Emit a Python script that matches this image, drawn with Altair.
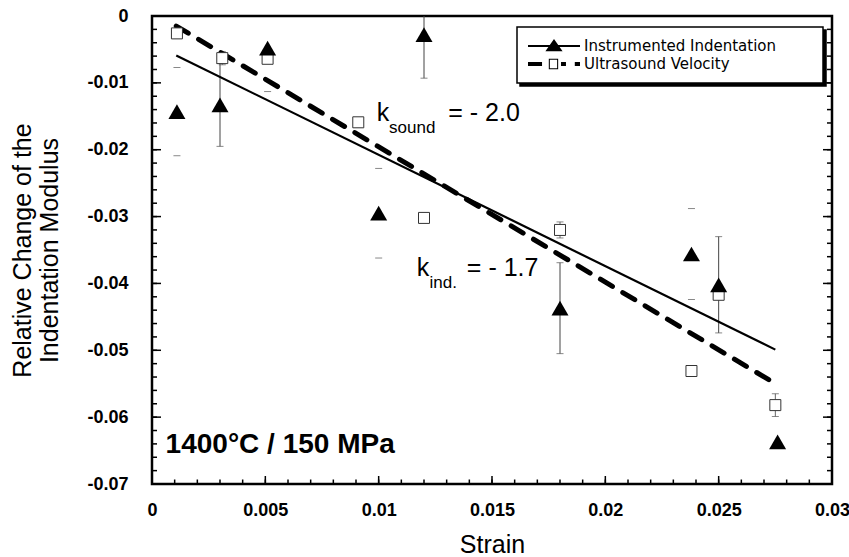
import altair as alt
import pandas as pd

# ---------------- data ----------------
series_names = ["Instrumented Indentation", "Ultrasound Velocity"]

# Instrumented indentation (filled triangles)
strain_ind = [0.0011, 0.0030, 0.0051, 0.0100, 0.0120, 0.0180, 0.0238, 0.0250, 0.0276]
mod_ind = [-0.0143, -0.0133, -0.0048, -0.0295, -0.0028, -0.0437, -0.0356, -0.0402, -0.0637]
err_ind = [0.0066, 0.0062, 0.0065, 0.0067, 0.0065, 0.0068, 0.0068, 0.0072, 0.0]
bar_ind = [False, True, False, False, True, True, False, True, False]

# Ultrasound velocity (open squares)
strain_us = [0.0011, 0.0031, 0.0051, 0.0091, 0.0120, 0.0180, 0.0238, 0.0250, 0.0275]
mod_us = [-0.0026, -0.0063, -0.0064, -0.0159, -0.0302, -0.0320, -0.0531, -0.0417, -0.0582]
err_us = [0.0007, 0.0010, 0.0007, 0.0007, 0.0007, 0.0012, 0.0007, 0.0007, 0.0017]

# linear fits (end points)
fit_strain_ind = [0.00107, 0.0275]
fit_mod_ind = [-0.0059, -0.0499]
fit_strain_us = [0.00107, 0.02726]
fit_mod_us = [-0.0015, -0.0545]

# tick values
x_major = [0, 0.005, 0.01, 0.015, 0.02, 0.025, 0.03]
x_minor = [round(i * 0.001, 3) for i in range(31)]
y_major = [0, -0.01, -0.02, -0.03, -0.04, -0.05, -0.06, -0.07]
y_minor = [round(-i * 0.002, 3) for i in range(36)]

# annotations
cond_text = ["1400°C / 150 MPa"]
cond_strain = [0.0006]
cond_mod = [-0.0654]
k_main = ["k", "k"]
k_strain = [0.00992, 0.01168]
k_mod = [-0.01575, -0.03895]
k_sub = ["sound", "ind."]
k_sub_strain = [0.01046, 0.01224]
k_sub_mod = [-0.01749, -0.04069]
k_rest = ["= - 2.0", "= - 1.7"]
k_rest_strain = [0.01307, 0.01389]

# ---------------- tables ----------------
ind = pd.DataFrame({"strain": strain_ind, "mod": mod_ind, "err": err_ind, "bar": bar_ind})
ind["lo"] = ind["mod"] - ind["err"]
ind["hi"] = ind["mod"] + ind["err"]
us = pd.DataFrame({"strain": strain_us, "mod": mod_us, "err": err_us})
us["lo"] = us["mod"] - us["err"]
us["hi"] = us["mod"] + us["err"]

caps_src = pd.concat([ind[ind["err"] > 0][["strain", "lo", "hi"]],
                      us[["strain", "lo", "hi"]]])
caps = caps_src.melt(id_vars="strain", value_vars=["lo", "hi"], value_name="cap")

fits = pd.DataFrame({
    "series": [series_names[0]] * 2 + [series_names[1]] * 2,
    "strain": fit_strain_ind + fit_strain_us,
    "mod": fit_mod_ind + fit_mod_us,
})

W, H = 680, 468
FONT = "Liberation Sans"
xs = alt.Scale(domain=[0, 0.03], nice=False, zero=False)
ys = alt.Scale(domain=[-0.07, 0], nice=False, zero=False)
LBL = "replace(format(datum.value, '~g'), '\u2212', '-')"

common = dict(domain=False, grid=False, ticks=False, tickSize=0, offset=0,
              labelFlush=False, labelOverlap=False, labelFont=FONT, labelFontSize=18,
              labelFontWeight="bold", labelColor="black", labelExpr=LBL,
              titleFont=FONT, titleFontSize=25, titleFontWeight="normal", titleColor="black")

ax_x = alt.Axis(orient="bottom", values=x_major, labelPadding=17, title="Strain",
                titlePadding=13, **common)
ax_y = alt.Axis(orient="left", values=y_major, labelPadding=24,
                title=["Relative Change of the", "Indentation Modulus"],
                titleLineHeight=27, titleAngle=270, titleBaseline="bottom",
                titlePadding=24, **common)


def X(field="strain", axis=None):
    return alt.X(f"{field}:Q", scale=xs, axis=axis)


def Y(field="mod", axis=None):
    return alt.Y(f"{field}:Q", scale=ys, axis=axis)


# inward tick marks drawn through the scales
def xticks(values, length):
    return alt.Chart(pd.DataFrame({"v": values})).mark_rule(
        color="black", strokeWidth=1.5).encode(
        x=X("v"), y=alt.value(H), y2=alt.value(H - length))


def yticks(values, length, side):
    x0 = 0 if side == "left" else W
    x1 = length if side == "left" else W - length
    return alt.Chart(pd.DataFrame({"v": values})).mark_rule(
        color="black", strokeWidth=1.5).encode(
        y=Y("v"), x=alt.value(x0), x2=alt.value(x1))


tick_layers = [
    xticks(x_minor, 4.5), xticks(x_major, 8),
    yticks(y_minor, 5, "left"), yticks(y_major, 9, "left"),
    yticks(y_minor, 5, "right"), yticks(y_major, 9, "right"),
]

# error bars (instrumented) -- carries the axes
rules_ind = alt.Chart(ind[ind["bar"]]).mark_rule(color="#444", strokeWidth=1, clip=True).encode(
    x=X(axis=ax_x), y=Y("lo", axis=ax_y), y2="hi:Q")
# error bars (ultrasound)
rules_us = alt.Chart(us).mark_rule(color="#666", strokeWidth=1, clip=True).encode(
    x=X(), y=Y("lo"), y2="hi:Q")
# caps
caps_layer = alt.Chart(caps).mark_tick(orient="horizontal", size=7, thickness=1,
                                       color="#555", clip=True).encode(x=X(), y=Y("cap"))

# fit lines
fit_ind = alt.Chart(fits).transform_filter(alt.datum.series == series_names[0]).mark_line(
    color="black", strokeWidth=2.2).encode(x=X(), y=Y())
fit_us = alt.Chart(fits).transform_filter(alt.datum.series == series_names[1]).mark_line(
    color="black", strokeWidth=5, strokeDash=[14, 12], strokeCap="round").encode(x=X(), y=Y())

# points
squares = alt.Chart(us).mark_point(shape="square", size=121, filled=True, fill="white",
                                   stroke="#333", strokeWidth=1, opacity=1).encode(x=X(), y=Y())
triangles = alt.Chart(ind).mark_point(shape="triangle-up", size=289, filled=True,
                                      color="black", opacity=1).encode(x=X(), y=Y())

# ---------------- legend ----------------
# front: symbols (line + marker) and labels, no box
p_ind = "M-1,-0.04H1V0.04H-1Z M0,-0.27L0.33,0.2L-0.33,0.2Z"
p_us = ("M-1,-0.08H-0.46V0.08H-1Z M-0.2,-0.2H0.16V0.2H-0.2Z M-0.16,-0.16V0.16H0.12V-0.16Z "
        "M0.27,-0.08H0.46V0.08H0.27Z M0.8,-0.08H1V0.08H0.8Z")
leg_base = dict(orient="none", title=None, labelFont="DejaVu Sans", labelFontSize=15,
                labelLimit=500, symbolStrokeWidth=0, symbolOpacity=1, padding=11,
                rowPadding=2, labelOffset=4, clipHeight=16, labelColor="black")
BOX_W = 280 * 280  # symbol column wide enough for the whole box
EMPTY = "M-1,0Z"

legend_layer = alt.Chart(fits).mark_point(filled=True, color="black", opacity=0).encode(
    x=X(), y=Y(),
    shape=alt.Shape("series:N",
                    scale=alt.Scale(domain=series_names, range=[p_ind, p_us]),
                    legend=alt.Legend(legendX=365, legendY=11, zindex=3,
                                      symbolSize=2704, symbolFillColor="black", **leg_base)))
# middle: white framed box (domain taken from the data, so it stays a separate legend)
box_layer = alt.Chart(fits).mark_point(filled=True, opacity=0).encode(
    x=X(), y=Y(),
    color=alt.Color("series:N", scale=alt.Scale(range=["white", "white"]),
                    legend=alt.Legend(legendX=365, legendY=11, zindex=2,
                                      symbolSize=BOX_W, symbolType=EMPTY, labelExpr="''",
                                      fillColor="white", strokeColor="black", **leg_base)))
# back: drop shadow (reversed domain, so it stays a separate legend)
shadow_layer = alt.Chart(fits).mark_point(filled=True, color="black", opacity=0).encode(
    x=X(), y=Y(),
    strokeDash=alt.StrokeDash("series:N", scale=alt.Scale(domain=series_names[::-1]),
                              legend=alt.Legend(legendX=368, legendY=14, zindex=1,
                                                symbolSize=BOX_W, symbolType=EMPTY,
                                                labelExpr="''", fillColor="black",
                                                strokeColor="black", **leg_base)))


# annotations
def text_layer(texts, xv, yv, size, weight="normal"):
    df = pd.DataFrame({"t": texts, "strain": xv, "mod": yv})
    return alt.Chart(df).mark_text(align="left", baseline="alphabetic", font=FONT,
                                   fontSize=size, fontWeight=weight, color="black").encode(
        x=X(), y=Y(), text="t:N")


cond_layer = text_layer(cond_text, cond_strain, cond_mod, 28, "bold")
k_layer = text_layer(k_main, k_strain, k_mod, 25)
k_sub_layer = text_layer(k_sub, k_sub_strain, k_sub_mod, 17)
k_rest_layer = text_layer(k_rest, k_rest_strain, k_mod, 25)

chart = alt.layer(
    rules_ind, rules_us, caps_layer, *tick_layers, fit_ind, fit_us, squares, triangles,
    shadow_layer, box_layer, legend_layer, cond_layer, k_layer, k_sub_layer, k_rest_layer
).resolve_axis(x="independent", y="independent").properties(
    width=W, height=H,
    autosize=alt.AutoSizeParams(type="none"),
    padding={"left": 152, "top": 16, "right": 17, "bottom": 73},
    background="white",
).configure_view(stroke="black", strokeWidth=2.5).configure_legend(strokeWidth=1.5)

chart.save("out.html", embed_options={"renderer": "svg", "actions": False})
